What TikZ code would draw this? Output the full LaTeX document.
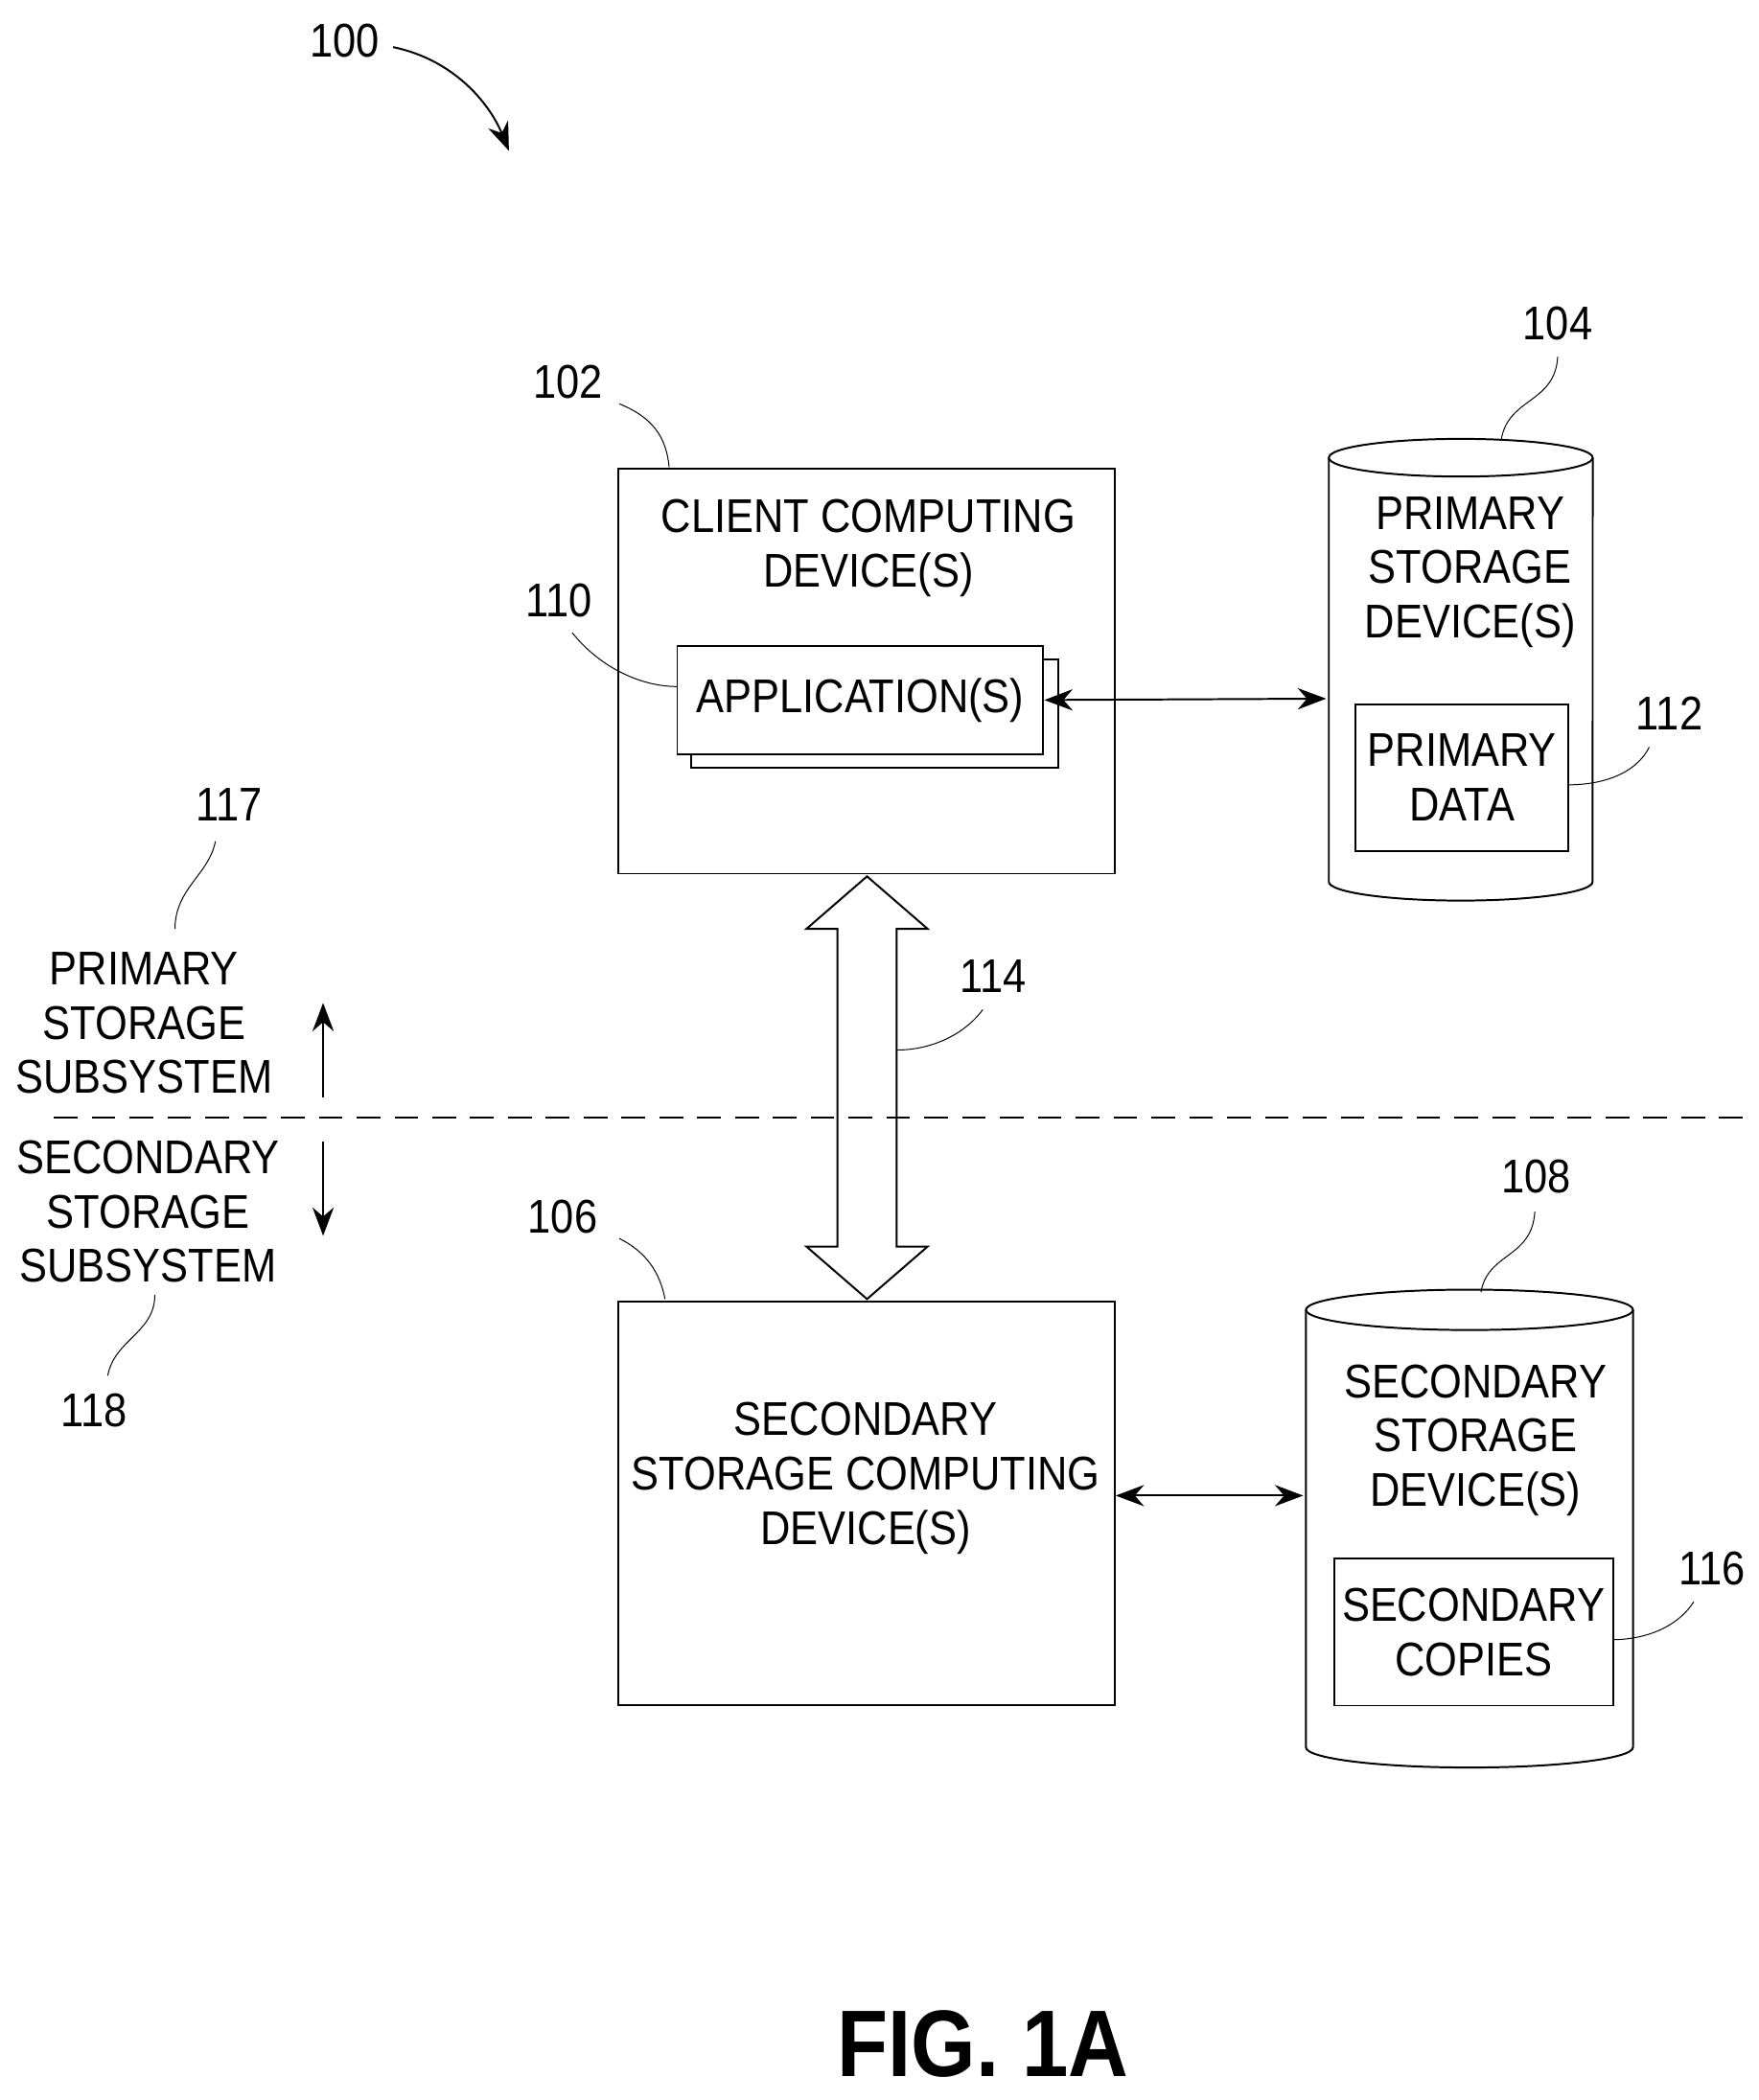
\documentclass[tikz,border=0pt]{standalone}
\usepackage{fontspec}
\setmainfont{Liberation Sans}[FakeStretch=0.88]
\usetikzlibrary{arrows.meta,positioning,calc}

\begin{document}
\begin{tikzpicture}[x=0.02cm, y=-0.02cm,
  box/.style={rectangle, draw, thick, inner sep=0},
  lbl/.style={align=center, font=\fontsize{20}{23}\selectfont},
  num/.style={font=\fontsize{20}{24}\selectfont},
  lead/.style={thin},
  arrow/.style={{Stealth[length=12pt,width=9pt]}-{Stealth[length=12pt,width=9pt]}, thick}
]
\useasboundingbox (0,0) rectangle (1306,1560);

% title number
\node[num] (n100) at (256,30) {100};
\draw[thick, -{Stealth[length=12pt,width=9pt]}] (292,35) .. controls (340,45) and (365,80) .. (378,112);

% client side
\node[box, minimum width=7.38cm, minimum height=6.02cm] (client) at (643.5,498.5) {};
\node[lbl] (clienttxt) at (645,407) {CLIENT COMPUTING\\DEVICE(S)};
\node[box, fill=white, minimum width=5.46cm, minimum height=1.6cm] (appback) at (649.5,530) {};
\node[box, fill=white, minimum width=5.44cm, minimum height=1.6cm] (app) at (639,520) {};
\node[lbl] at (app) {APPLICATION(S)};

% primary storage cylinder
\draw[thick] (987,340) -- (987,655) arc[start angle=180, end angle=360, x radius=1.96cm, y radius=0.28cm] -- (1183,340);
\draw[thick] (1085,340) ellipse [x radius=1.96cm, y radius=0.28cm];
\coordinate (psd) at (985,519);
\node[lbl] (psdtxt) at (1092,425) {PRIMARY\\STORAGE\\DEVICE(S)};
\node[box, minimum width=3.16cm, minimum height=2.18cm] (pdata) at (1086,577.5) {};
\node[lbl] at (pdata) {PRIMARY\\DATA};

\draw[arrow] (app.east) -- (psd);

% secondary side
\node[box, minimum width=7.38cm, minimum height=6.0cm] (sec) at (643.5,1117) {};
\node[lbl] at (643,1098) {SECONDARY\\STORAGE COMPUTING\\DEVICE(S)};

\draw[thick] (970,973) -- (970,1298) arc[start angle=180, end angle=360, x radius=2.43cm, y radius=0.3cm] -- (1213,973);
\draw[thick] (1091.5,973) ellipse [x radius=2.43cm, y radius=0.3cm];
\coordinate (ssd) at (968,1111);
\node[lbl] at (1096,1070) {SECONDARY\\STORAGE\\DEVICE(S)};
\node[box, minimum width=4.14cm, minimum height=2.18cm] (scopy) at (1094.5,1212.5) {};
\node[lbl] at (scopy) {SECONDARY\\COPIES};

\draw[arrow] (sec.east |- ssd) -- (ssd);

% fat double arrow 114
\draw[thick, fill=white] (644,651) -- (689,690) -- (666,690) -- (666,926) -- (689,926)
  -- (644,965) -- (599,926) -- (622,926) -- (622,690) -- (599,690) -- cycle;

% subsystem divider
\draw[thick, dashed, dash pattern=on 10pt off 6pt] (40,830) -- (1300,830);
\node[lbl] (prisub) at (107,760) {PRIMARY\\STORAGE\\SUBSYSTEM};
\node[lbl] (secsub) at (110,900) {SECONDARY\\STORAGE\\SUBSYSTEM};
\draw[thick, -{Stealth[length=12pt,width=9pt]}] (240,815) -- (240,745);
\draw[thick, -{Stealth[length=12pt,width=9pt]}] (240,848) -- (240,918);

% reference numerals
\node[num] at (422,284) {102};
\draw[lead] (460,300) .. controls (485,310) and (495,325) .. (497,347);
\node[num] at (415,446) {110};
\draw[lead] (425,470) .. controls (445,495) and (475,510) .. (503,510);
\node[num] at (1157,240) {104};
\draw[lead] (1157,265) .. controls (1155,300) and (1120,295) .. (1115,327);
\node[num] at (1240,530) {112};
\draw[lead] (1225,555) .. controls (1215,575) and (1190,583) .. (1165,583);
\node[num] at (738,725) {114};
\draw[lead] (730,750) .. controls (715,770) and (690,780) .. (666,780);
\node[num] at (170,598) {117};
\draw[lead] (160,625) .. controls (155,650) and (130,660) .. (130,690);
\node[num] at (70,1048) {118};
\draw[lead] (80,1022) .. controls (85,995) and (115,990) .. (115,962);
\node[num] at (418,904) {106};
\draw[lead] (460,920) .. controls (480,930) and (490,945) .. (494,965);
\node[num] at (1141,874) {108};
\draw[lead] (1140,900) .. controls (1138,935) and (1105,930) .. (1100,960);
\node[num] at (1272,1165) {116};
\draw[lead] (1258,1190) .. controls (1245,1210) and (1220,1218) .. (1198,1218);

% caption
\node[font=\fontsize{40}{48}\selectfont\bfseries] at (730,1518) {FIG. 1A};
\end{tikzpicture}
\end{document}
